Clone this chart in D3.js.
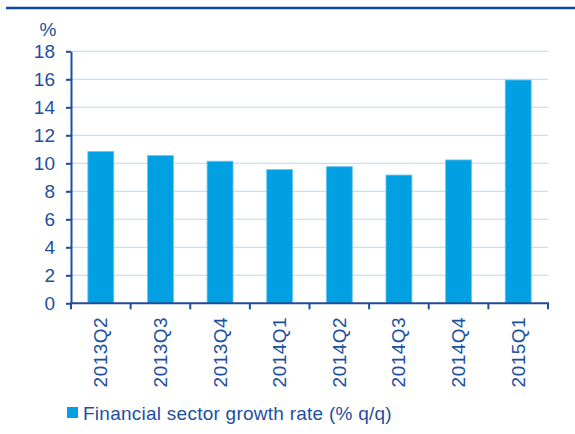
<!DOCTYPE html>
<html>
<head>
<meta charset="utf-8">
<script src="https://cdn.jsdelivr.net/npm/d3@7"></script>
<style>
  html, body { margin: 0; padding: 0; background: #fff; }
  svg { display: block; font-family: "Liberation Sans", Arial, sans-serif; }
</style>
</head>
<body>
<svg id="chart" width="575" height="434"></svg>
<script>
// Quarterly growth of the financial sector
const quarters = ["2013Q2", "2013Q3", "2013Q4", "2014Q1", "2014Q2", "2014Q3", "2014Q4", "2015Q1"];
const growth = [10.84, 10.55, 10.15, 9.55, 9.76, 9.16, 10.24, 15.95];
const yTicks = [0, 2, 4, 6, 8, 10, 12, 14, 16, 18];
const seriesName = "Financial sector growth rate (% q/q)";
const unitLabel = "%";

const textColor = "#1d4f9f";
const axisColor = "#1f4d9e";
const barColor = "#00a0e3";
const gridColor = "#bfe4f3";
const fontSize = 19;

const svg = d3.select("#chart");
const plot = { left: 71, right: 548, top: 51.3, bottom: 303.3 };

const x = d3.scaleBand().domain(quarters).range([plot.left, plot.right]).paddingInner(0.565).paddingOuter(0.2825);
const y = d3.scaleLinear().domain([0, 18]).range([plot.bottom, plot.top]);

// top rule
svg.append("line")
  .attr("x1", 6).attr("x2", 575).attr("y1", 8).attr("y2", 8)
  .attr("stroke", "#0e4c9b").attr("stroke-width", 2.5);

// gridlines
svg.append("g").selectAll("line").data(yTicks.filter(d => d > 0)).join("line")
  .attr("x1", plot.left).attr("x2", plot.right)
  .attr("y1", d => y(d)).attr("y2", d => y(d))
  .attr("stroke", gridColor).attr("stroke-width", 1.2);

// bars
svg.append("g").selectAll("rect").data(quarters).join("rect")
  .attr("x", d => x(d))
  .attr("width", x.bandwidth())
  .attr("y", (d, i) => y(growth[i]))
  .attr("height", (d, i) => y(0) - y(growth[i]))
  .attr("fill", barColor)
  .attr("stroke", "#6cc6ee").attr("stroke-width", 0.8);

// y axis
const yAxis = svg.append("g")
  .attr("transform", `translate(${plot.left},0)`)
  .call(d3.axisLeft(y).tickValues(yTicks).tickSize(5).tickPadding(11).tickSizeOuter(0));
yAxis.select(".domain").attr("stroke", axisColor).attr("stroke-width", 2);
yAxis.selectAll(".tick line").attr("stroke", axisColor).attr("stroke-width", 2);
yAxis.selectAll(".tick text")
  .attr("fill", textColor).attr("font-size", fontSize)
  .attr("font-family", "Liberation Sans, Arial, sans-serif");

// x axis: ticks at band boundaries
const boundaries = quarters.map(q => x(q) - x.step() * x.paddingInner() / 2).concat([plot.right]);
const xAxisG = svg.append("g");
xAxisG.append("line")
  .attr("x1", plot.left - 1).attr("x2", plot.right + 1)
  .attr("y1", y(0)).attr("y2", y(0))
  .attr("stroke", axisColor).attr("stroke-width", 2);
xAxisG.selectAll("line.tk").data(boundaries).join("line").attr("class", "tk")
  .attr("x1", d => d).attr("x2", d => d)
  .attr("y1", y(0)).attr("y2", y(0) + 6)
  .attr("stroke", axisColor).attr("stroke-width", 2);
xAxisG.selectAll("text").data(quarters).join("text")
  .attr("transform", d => `translate(${x(d) + x.bandwidth() / 2 + 6.5},${y(0) + 13.5}) rotate(-90)`)
  .attr("text-anchor", "end")
  .attr("fill", textColor).attr("font-size", fontSize)
  .attr("letter-spacing", 0.5)
  .text(d => d);

// unit label
svg.append("text")
  .attr("x", 48).attr("y", 35.7).attr("text-anchor", "middle")
  .attr("fill", textColor).attr("font-size", fontSize)
  .text(unitLabel);

// legend
const legend = svg.append("g");
legend.append("rect")
  .attr("x", 67).attr("y", 407).attr("width", 11).attr("height", 11)
  .attr("fill", barColor);
legend.append("text")
  .attr("x", 83).attr("y", 419.5)
  .attr("fill", textColor).attr("font-size", fontSize)
  .attr("letter-spacing", 0.25)
  .text(seriesName);
</script>
</body>
</html>
